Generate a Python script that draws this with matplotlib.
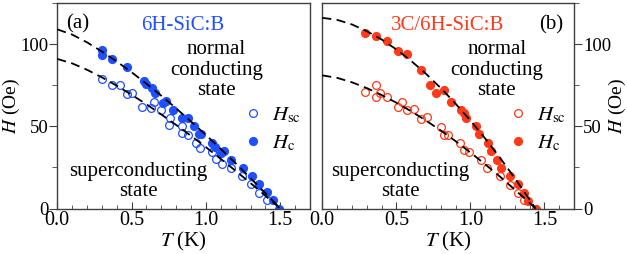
import numpy as np
import matplotlib.pyplot as plt
from matplotlib.ticker import MultipleLocator

plt.rcParams['font.family'] = ['Liberation Serif', 'DejaVu Serif']
plt.rcParams['mathtext.fontset'] = 'stix'
plt.rcParams['font.size'] = 15

# (a) 6H-SiC:B
a_Tc = [0.30, 0.30, 0.37, 0.47, 0.58, 0.60, 0.64, 0.66, 0.71, 0.73, 0.78, 0.84, 0.88,
        0.92, 0.95, 0.97, 1.04, 1.06, 1.10, 1.12, 1.17, 1.25, 1.31, 1.36, 1.41, 1.45, 1.49]
a_Hc = [96.5, 93.3, 90.9, 86.0, 77.8, 75.6, 73.2, 70.0, 64.5, 65.5, 60.0, 55.0, 55.0,
        50.0, 45.2, 45.5, 40.0, 37.7, 33.6, 35.0, 29.8, 24.8, 19.8, 14.9, 9.8, 5.0, 0.0]
a_Tsc = [0.30, 0.37, 0.42, 0.47, 0.50, 0.57, 0.63, 0.65, 0.70, 0.76, 0.75, 0.84, 0.84,
         0.88, 0.93, 0.96, 1.04, 1.07, 1.11, 1.17, 1.24, 1.30, 1.36, 1.41]
a_Hsc = [78.9, 75.2, 75.2, 69.9, 70.0, 61.8, 61.0, 65.0, 60.0, 55.0, 50.9, 50.0, 45.8,
         45.0, 39.7, 36.7, 34.6, 30.0, 27.1, 24.7, 19.8, 14.8, 9.7, 5.0]
a_fitT = [0.0, 0.1, 0.2, 0.3, 0.4, 0.5, 0.6, 0.7, 0.8, 0.9, 1.0, 1.1, 1.2, 1.3, 1.4, 1.5]
a_fitHc = [109.0, 105.8, 101.1, 95.5, 89.4, 82.9, 75.9, 68.6, 60.9, 52.9, 44.7, 36.2,
           27.5, 18.5, 9.4, 0.0]
a_fitHsc = [91.0, 88.3, 84.4, 79.8, 74.7, 69.2, 63.4, 57.2, 50.8, 44.2, 37.3, 30.2,
            22.9, 15.5, 7.8, 0.0]

# (b) 3C/6H-SiC:B
b_Tc = [0.29, 0.36, 0.44, 0.51, 0.57, 0.67, 0.73, 0.77, 0.82, 0.87, 0.94, 0.96, 0.97,
        1.04, 1.06, 1.12, 1.14, 1.18, 1.21, 1.27, 1.32, 1.36, 1.39, 1.44]
b_Hc = [107.0, 105.0, 102.0, 96.0, 94.0, 84.0, 75.0, 70.0, 72.0, 65.0, 60.0, 58.0, 55.0,
        50.0, 45.5, 39.7, 35.0, 29.5, 24.5, 19.8, 15.0, 9.5, 4.6, 0.0]
b_Tsc = [0.29, 0.36, 0.36, 0.39, 0.44, 0.51, 0.54, 0.57, 0.62, 0.67, 0.71, 0.80, 0.82,
         0.85, 0.93, 0.96, 0.99, 1.07, 1.11, 1.20, 1.27, 1.32, 1.36]
b_Hsc = [71.1, 75.2, 68.1, 70.2, 67.7, 62.0, 65.0, 60.0, 60.4, 54.3, 55.5, 49.8, 44.8,
         44.8, 39.7, 35.6, 34.6, 29.5, 24.5, 19.8, 14.5, 9.7, 5.0]
b_fitT = [0.0, 0.1, 0.2, 0.3, 0.4, 0.5, 0.6, 0.7, 0.8, 0.9, 1.0, 1.1, 1.2, 1.3, 1.4, 1.44]
b_fitHc = [116.0, 114.8, 112.0, 107.9, 102.9, 96.8, 89.8, 82.0, 73.3, 63.8, 53.6, 42.6,
           30.9, 18.5, 5.4, 0.0]
b_fitHsc = [81.0, 79.5, 76.8, 73.3, 69.1, 64.4, 59.2, 53.5, 47.5, 41.0, 34.1, 26.9,
            19.4, 11.5, 3.4, 0.0]

blue = '#1f4fff'
red = '#ff3a1a'
spine = '#404040'

fig = plt.figure(figsize=(6.27, 2.54), dpi=100)
ax1 = fig.add_axes([0.0914, 0.179, 0.403, 0.809])
ax2 = fig.add_axes([0.514, 0.179, 0.4015, 0.809])

panels = [
    (ax1, a_Tc, a_Hc, a_Tsc, a_Hsc, a_fitT, a_fitHc, a_fitHsc, blue, '6H-SiC:B', '(a)', 'left'),
    (ax2, b_Tc, b_Hc, b_Tsc, b_Hsc, b_fitT, b_fitHc, b_fitHsc, red, '3C/6H-SiC:B', '(b)', 'right'),
]

for ax, Tc, Hc, Tsc, Hsc, fT, fHc, fHsc, col, name, tag, side in panels:
    ax.plot(fT, fHc, color='black', ls=(0, (5, 3)), lw=1.3, zorder=3)
    ax.plot(fT, fHsc, color='black', ls=(0, (5, 3)), lw=1.3, zorder=3)
    p1, = ax.plot(Tsc, Hsc, 'o', ms=5.6, mfc='none', mec=col, mew=0.9, zorder=2)
    p2, = ax.plot(Tc, Hc, 'o', ms=5.6, mfc=col, mec=col, zorder=2)

    ax.set_xlim(0, 1.7)
    ax.set_ylim(0, 125)
    ax.xaxis.set_minor_locator(MultipleLocator(0.1))
    ax.yaxis.set_major_locator(MultipleLocator(50))
    ax.yaxis.set_minor_locator(MultipleLocator(25))
    ax.set_xticks([0, 0.5, 1.0, 1.5])
    ax.set_xticklabels(['0.0', '0.5', '1.0', '1.5'])
    for s in ax.spines.values():
        s.set_color(spine)
        s.set_linewidth(1.0)
    ax.tick_params(axis='x', which='both', direction='in', top=False, color=spine,
                   pad=2, labelsize=14.5)
    ax.tick_params(axis='x', which='major', length=5)
    ax.tick_params(axis='x', which='minor', length=3)
    ax.set_ylabel(r'$H$ (Oe)', fontsize=14)
    if side == 'left':
        ax.tick_params(axis='y', which='both', direction='out', left=True, right=False,
                       color=spine, pad=1, labelsize=13.5)
        ax.yaxis.set_label_position('left')
        ax.yaxis.set_label_coords(-0.182, 0.5)
    else:
        ax.yaxis.tick_right()
        ax.tick_params(axis='y', which='both', direction='out', left=False, right=True,
                       color=spine, pad=1, labelsize=13.5)
        ax.yaxis.set_label_position('right')
        ax.yaxis.set_label_coords(1.172, 0.5)
    ax.yaxis.label.set_va('center')
    ax.tick_params(axis='y', which='major', length=5.5)
    ax.tick_params(axis='y', which='minor', length=3.5)
    ax.set_xlabel(r'$T$ (K)', labelpad=0)

    ax.text(0.497, 0.893, name, color=col, transform=ax.transAxes, ha='center', va='center')
    if side == 'left':
        ax.text(0.035, 0.9, tag, transform=ax.transAxes, ha='left', va='center')
        ax.text(0.63, 0.674, 'normal\nconducting\nstate', transform=ax.transAxes,
                ha='center', va='center', linespacing=1.12)
        ax.text(0.32, 0.131, 'superconducting\nstate', transform=ax.transAxes,
                ha='center', va='center', linespacing=1.12)
        lx = 0.735
    else:
        ax.text(0.958, 0.893, tag, transform=ax.transAxes, ha='right', va='center')
        ax.text(0.693, 0.674, 'normal\nconducting\nstate', transform=ax.transAxes,
                ha='center', va='center', linespacing=1.12)
        ax.text(0.309, 0.131, 'superconducting\nstate', transform=ax.transAxes,
                ha='center', va='center', linespacing=1.12)
        lx = 0.738
    ax.legend([p1, p2], [r'$H_{\rm sc}$', r'$H_{\rm c}$'], loc='center left',
              bbox_to_anchor=(lx, 0.387), frameon=False, handlelength=1.0,
              handletextpad=0.4, labelspacing=0.4, borderpad=0, borderaxespad=0,
              fontsize=15)

fig.savefig('out.png', dpi=100)
